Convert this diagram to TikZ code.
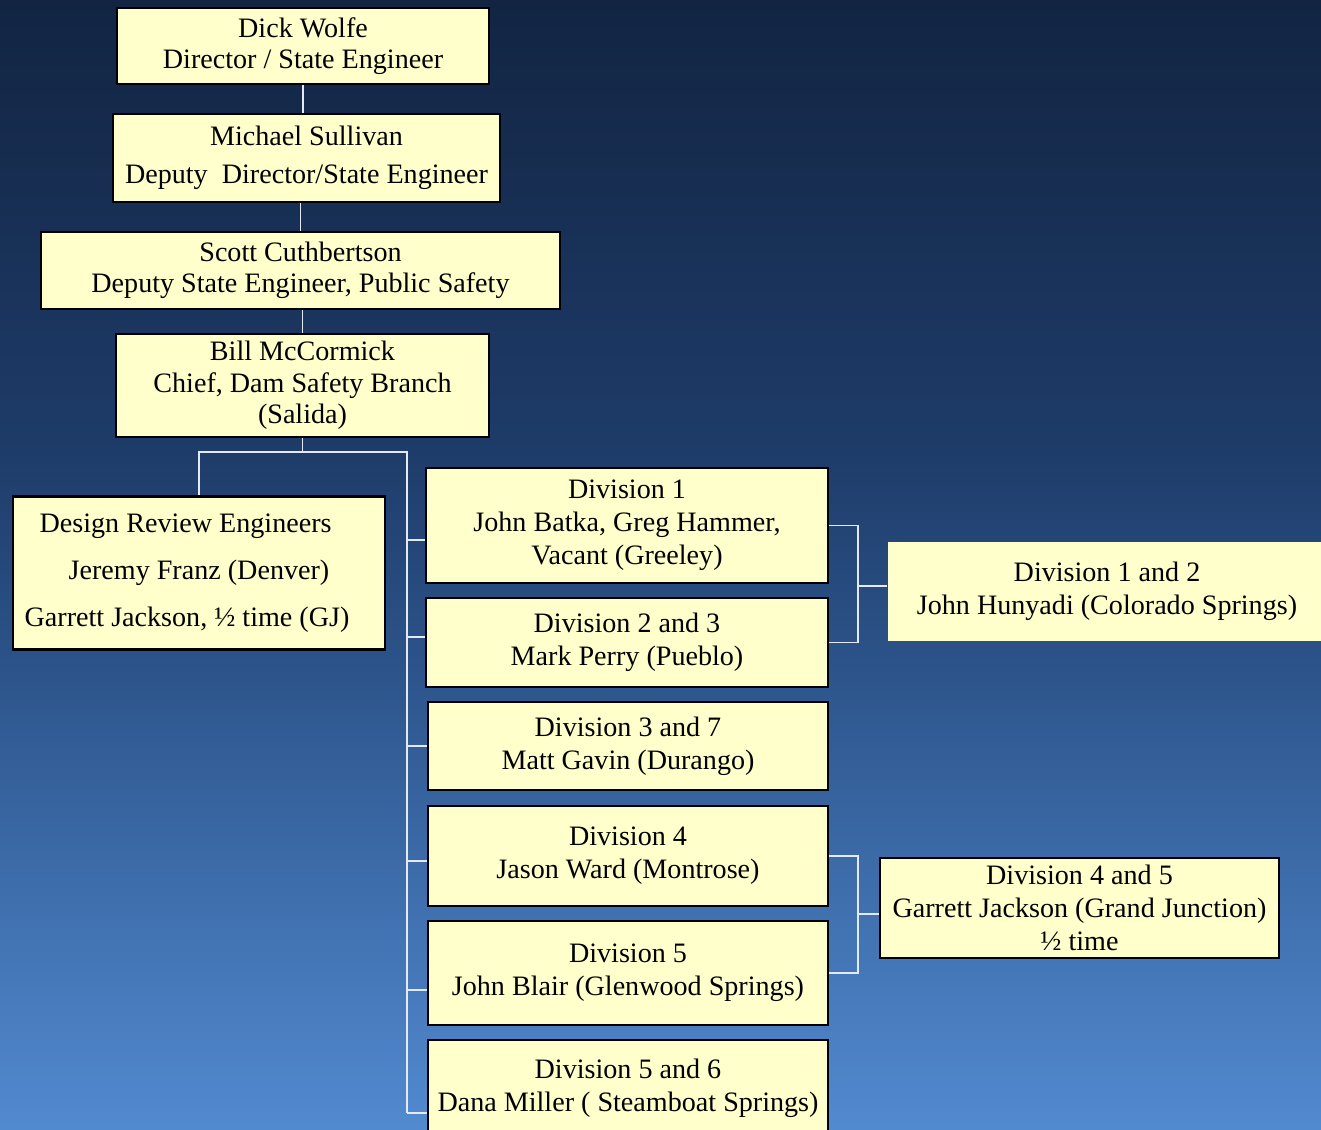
\documentclass[tikz,border=0pt]{standalone}
\usepackage{fontspec}
\setmainfont{Liberation Serif}
\usepackage{xcolor}
\definecolor{boxfill}{RGB}{255, 255, 204}
\definecolor{linkline}{RGB}{228, 234, 244}
\definecolor{bgtop}{RGB}{18, 36, 66}
\definecolor{bgupper}{RGB}{30, 60, 105}
\definecolor{bglower}{RGB}{45, 85, 140}
\definecolor{bgbot}{RGB}{82, 138, 208}
\usepackage{tikz}
\usetikzlibrary{positioning,calc}
\pgfdeclareverticalshading{bgshade}{100bp}{color(0bp)=(bgbot); color(25bp)=(bgbot); color(45bp)=(bglower); color(55bp)=(bgupper); color(75bp)=(bgtop); color(100bp)=(bgtop)}

\begin{document}
\begin{tikzpicture}[
  x=0.02cm, y=-0.02cm,
  headbox/.style={draw=black, fill=boxfill, line width=1.6pt, align=center, inner sep=2pt, font=\fontsize{16}{17.6}\selectfont},
  divbox/.style={draw=black, fill=boxfill, line width=1.6pt, align=center, inner sep=2pt, font=\fontsize{16}{18.7}\selectfont, minimum width=8.0cm},
  sharebox/.style={divbox, draw=none},
  link/.style={draw=linkline, line width=1.1pt}
]
\useasboundingbox (0,0) rectangle (1321,1129);
\path[shading=bgshade] (0,0) rectangle (1321,1129);

% chain of command
\node[headbox, minimum width=7.44cm, minimum height=1.52cm] (dir) at (303,46) {Dick Wolfe\\Director / State Engineer};
\node[headbox, minimum width=7.74cm, minimum height=1.76cm, font=\fontsize{16}{21.5}\selectfont] (deputy) at (306.5,158) {Michael Sullivan\\Deputy\ \ Director/State Engineer};
\node[headbox, minimum width=10.38cm, minimum height=1.54cm] (pubsafety) at (300.5,270.5) {Scott Cuthbertson\\Deputy State Engineer, Public Safety};
\node[headbox, minimum width=7.46cm, minimum height=2.06cm, font=\fontsize{16}{18}\selectfont] (chief) at (302.5,385.5) {Bill McCormick\\Chief, Dam Safety Branch\\(Salida)};

\node[divbox, align=left, minimum width=7.44cm, minimum height=3.06cm, font=\fontsize{16}{26.7}\selectfont] (design) at (199,573) {\hspace*{0.3cm}Design Review Engineers\\\hspace*{0.88cm}Jeremy Franz (Denver)\\Garrett Jackson, ½ time (GJ)\hspace*{0.48cm}};

% divisions
\node[divbox, minimum width=8.04cm, minimum height=2.3cm] (div1) at (627,525.5) {Division 1\\John Batka, Greg Hammer,\\Vacant (Greeley)};
\node[divbox, minimum width=8.04cm, minimum height=1.78cm] (div23) at (627,642.5) {Division 2 and 3\\Mark Perry (Pueblo)};
\node[divbox, minimum height=1.76cm] (div37) at (628,746) {Division 3 and 7\\Matt Gavin (Durango)};
\node[divbox, minimum height=2.0cm] (div4) at (628,856) {Division 4\\Jason Ward (Montrose)};
\node[divbox, minimum height=2.08cm] (div5) at (628,973) {Division 5\\John Blair (Glenwood Springs)};
\node[divbox, minimum height=1.92cm] (div56) at (628,1088) {Division 5 and 6\\Dana Miller ( Steamboat Springs)};

\node[sharebox, minimum width=8.76cm, minimum height=1.98cm] (div12) at (1107,591.5) {Division 1 and 2\\John Hunyadi (Colorado Springs)};
\node[divbox, minimum width=7.98cm, minimum height=2.0cm] (div45) at (1079.5,908) {Division 4 and 5\\Garrett Jackson (Grand Junction)\\½ time};

\coordinate (trunktop) at (407,452);
\coordinate (bk1) at (858,586);
\coordinate (bk2) at (858,914);

\draw[link] (dir.south) -- (dir.south |- deputy.north);
\draw[link] (deputy.south -| pubsafety.north) -- (pubsafety.north);
\draw[link] (chief.north |- pubsafety.south) -- (chief.north);
\draw[link] (chief.south) -- (chief.south |- trunktop);
\draw[link] (design.north) |- (trunktop) -- ([yshift=-0.5cm]div56.west -| trunktop);

\foreach \n/\d in {div1/-0.29, div23/0.11, div37/0, div4/-0.1, div5/-0.34, div56/-0.5}
  \draw[link] ([yshift=\d cm]\n.west -| trunktop) -- ([yshift=\d cm]\n.west);

% shared engineers
\draw[link] (div1.east) -| (bk1) |- (div23.east);
\draw[link] (bk1) -- (bk1 -| div12.west);
\draw[link] (div4.east) -| (bk2) |- (div5.east);
\draw[link] (bk2) -- (bk2 -| div45.west);
\end{tikzpicture}
\end{document}
